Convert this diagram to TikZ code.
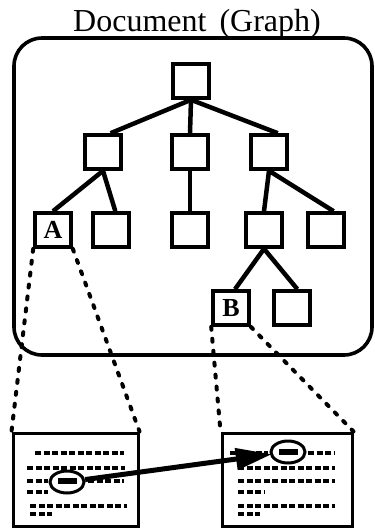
\documentclass[tikz,border=0pt]{standalone}
\usepackage{fontspec}
\setmainfont{Liberation Serif}
\usetikzlibrary{shapes.geometric,arrows.meta}
\tikzset{
  gnode/.style={draw, line width=3.6pt, minimum width=36pt, minimum height=34pt, inner sep=0pt,
    font=\fontsize{26}{26}\selectfont\bfseries},
  gedge/.style={line width=4.5pt},
  zoomline/.style={line width=4pt, line cap=round, dash pattern=on 3pt off 9pt},
  docbox/.style={draw, line width=3pt, minimum width=125pt, minimum height=93pt, inner sep=0pt},
  txt/.style={line width=3.4pt, dash pattern=on 6pt off 2.5pt},
  sel/.style={draw, ellipse, line width=3pt, minimum width=34pt, minimum height=22pt, inner sep=0pt},
  link/.style={line width=5pt, -{Triangle[length=36pt,width=21pt]}, shorten >=-2pt}
}
\begin{document}
\begin{tikzpicture}[x=1pt,y=-1pt]
\useasboundingbox (0,0) rectangle (375,528);

% title and graph frame
\node[anchor=base, font=\fontsize{32}{32}\selectfont] (title) at (197,31) {Document\hspace{5pt} (Graph)};
\draw[line width=3.6pt, rounded corners=28pt] (14,38) rectangle (372,355);

% tree nodes
\node[gnode] (root) at (191,81) {};
\node[gnode] (L) at (103,152) {};
\node[gnode] (M) at (190,152) {};
\node[gnode] (R) at (269,152) {};
\node[gnode] (A) at (53,230) {A};
\node[gnode] (n2) at (111,230) {};
\node[gnode] (n3) at (190,230) {};
\node[gnode] (n4) at (264,230) {};
\node[gnode] (n5) at (326,230) {};
\node[gnode] (B) at (231,308) {B};
\node[gnode] (n7) at (292,308) {};

% tree edges
\draw[gedge] (root.south) -- (L.68);
\draw[gedge] (root.south) -- (M.north);
\draw[gedge] (root.south) -- (R.65);
\draw[gedge] (L.south) -- (A.north);
\draw[gedge] (L.south) -- (n2.77);
\draw[gedge] (M.south) -- (n3.north);
\draw[gedge] (R.south) -- (n4.north);
\draw[gedge] (R.south) -- (n5.68);
\draw[gedge] (n4.south) -- (B.78);
\draw[gedge] (n4.south) -- (n7.74);

% document views
\node[docbox] (D1) at (75.5,479.5) {};
\node[docbox, minimum width=130pt] (D2) at (287,479.5) {};

% zoom lines
\draw[zoomline] (A.south west) -- (D1.north west);
\draw[zoomline] (A.south east) -- (D1.north east);
\draw[zoomline] (B.south west) -- (D2.north west);
\draw[zoomline] (B.south east) -- (D2.north east);

% text lines of the left view
\draw[txt] (35,453) -- (124,453);
\draw[txt] (27,468) -- (125,468);
\draw[txt] (27,481) -- (48,481);
\draw[txt] (88,481) -- (124,481);
\draw[txt] (27,492) -- (48,492);
\draw[txt] (30,506) -- (127,506);
\draw[txt] (30,514) -- (52,514);
\node[sel] (e1) at (67,482) {};
\draw[line width=6pt] (58,481) -- (77,481);

% text lines of the right view
\draw[txt] (230,453) -- (268,453);
\draw[txt] (308,453) -- (334,453);
\draw[txt] (238,468) -- (335,468);
\draw[txt] (238,481) -- (335,481);
\draw[txt] (238,492) -- (265,492);
\draw[txt] (238,506) -- (335,506);
\draw[txt] (238,514) -- (260,514);
\node[sel] (e2) at (288,452) {};
\draw[line width=6pt] (279,452) -- (298,452);

% link between the selections
\draw[link] (e1) -- (e2);
\end{tikzpicture}
\end{document}
